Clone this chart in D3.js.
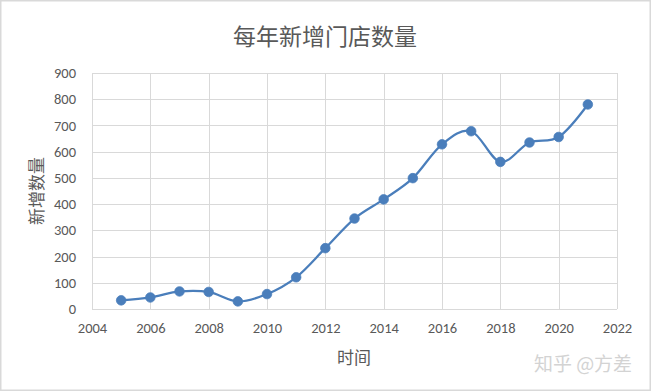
<!DOCTYPE html>
<html><head><meta charset="utf-8">
<script src="https://cdn.jsdelivr.net/npm/d3@7"></script>
<style>body{margin:0;background:#fff}svg{display:block}</style>
</head><body>
<script>
const years = [2005,2006,2007,2008,2009,2010,2011,2012,2013,2014,2015,2016,2017,2018,2019,2020,2021];
const counts = [33,44,67,65,29,57,121,232,345,418,499,628,678,561,635,656,780];
const xTicks = [2004,2006,2008,2010,2012,2014,2016,2018,2020,2022];
const yTicks = [0,100,200,300,400,500,600,700,800,900];
const title = "每年新增门店数量";
const xLabel = "时间";
const yLabel = "新增数量";
const watermark = "知乎 @方差";

const W = 651, H = 391;
const font = "'Noto Sans CJK SC','Microsoft YaHei',sans-serif";
const numFont = "Calibri,Carlito,'Open Sans','Liberation Sans',sans-serif";
const svg = d3.select("body").append("svg").attr("width", W).attr("height", H);
svg.append("rect").attr("x",0.5).attr("y",0.5).attr("width",W-1).attr("height",H-1)
  .attr("fill","#fff").attr("stroke","#d9d9d9").attr("stroke-width",2);

const L = 92, R = 617, T = 73, B = 309;
const x = d3.scaleLinear().domain([2004,2022]).range([L,R]);
const y = d3.scaleLinear().domain([0,900]).range([B,T]);

const grid = svg.append("g");
grid.selectAll("line.h").data(yTicks).join("line")
  .attr("x1",L).attr("x2",R).attr("y1",d=>Math.round(y(d))+0.5).attr("y2",d=>Math.round(y(d))+0.5)
  .attr("stroke","#d9d9d9").attr("stroke-width",1);
grid.selectAll("line.v").data(xTicks).join("line")
  .attr("y1",T).attr("y2",B).attr("x1",d=>Math.round(x(d))+0.5).attr("x2",d=>Math.round(x(d))+0.5)
  .attr("stroke","#d9d9d9").attr("stroke-width",1);

const yAxis = d3.axisLeft(y).tickValues(yTicks).tickSize(0).tickPadding(16);
const gy = svg.append("g").attr("transform",`translate(${L},0)`).call(yAxis);
gy.select(".domain").remove();
gy.selectAll("text").attr("fill","#595959").style("font-size","14.5px").style("font-family",numFont);

const xAxis = d3.axisBottom(x).tickValues(xTicks).tickFormat(d3.format("d")).tickSize(0).tickPadding(14);
const gx = svg.append("g").attr("transform",`translate(0,${B})`).call(xAxis);
gx.select(".domain").remove();
gx.selectAll("text").attr("fill","#595959").style("font-size","14.5px").style("font-family",numFont);

const line = d3.line().x((d,i)=>x(years[i])).y(d=>y(d)).curve(d3.curveCardinal.tension(0));
svg.append("path").datum(counts).attr("d",line).attr("fill","none")
  .attr("stroke","#4a7ebb").attr("stroke-width",2.25);
svg.selectAll("circle.pt").data(counts).join("circle")
  .attr("cx",(d,i)=>x(years[i])).attr("cy",d=>y(d)).attr("r",4.8)
  .attr("fill","#4a7ebb").attr("stroke","#4a7ebb").attr("stroke-width",0.75);

svg.append("text").attr("x",325).attr("y",45).attr("text-anchor","middle")
  .attr("fill","#595959").style("font-size","23px").style("font-family",font).text(title);
svg.append("text").attr("x",354).attr("y",364).attr("text-anchor","middle")
  .attr("fill","#595959").style("font-size","17px").style("font-family",font).text(xLabel);
svg.append("text").attr("transform","translate(43,191) rotate(-90)").attr("text-anchor","middle")
  .attr("fill","#595959").style("font-size","17px").style("font-family",font).text(yLabel);
svg.append("text").attr("x",583).attr("y",371).attr("text-anchor","middle")
  .attr("fill","#d3d3d3").style("font-size","19px").style("font-family",font).text(watermark);
</script>
</body></html>
